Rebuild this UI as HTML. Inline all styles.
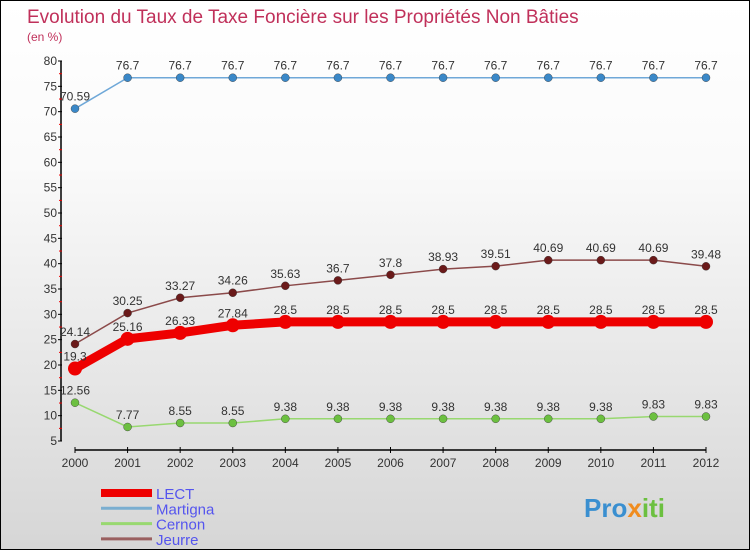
<!DOCTYPE html>
<html><head><meta charset="utf-8"><style>
body{margin:0}
#c{width:750px;height:550px;position:relative;box-sizing:border-box;border:1px solid #000;background:linear-gradient(#fff,#fafafa 30%,#d6d6d6);font-family:"Liberation Sans",sans-serif;overflow:hidden}
</style></head><body>
<div id="c">
<svg id="s" width="748" height="548" xmlns="http://www.w3.org/2000/svg" font-family="Liberation Sans, sans-serif">
<text x="26" y="22" font-size="19" fill="#c0305a">Evolution du Taux de Taxe Foncière sur les Propriétés Non Bâties</text>
<text x="26" y="40" font-size="12" fill="#c0305a">(en %)</text>
<g id="axes"></g><g id="series"></g>
<g id="legend"></g>
<text x="583" y="516" font-size="26" font-weight="bold" fill="#3a8fd0">Pro<tspan fill="#f08c1e">x</tspan><tspan fill="#6cc040">iti</tspan></text>
</svg>
</div>
<script>
const years=["2000","2001","2002","2003","2004","2005","2006","2007","2008","2009","2010","2011","2012"];
const yTicks=[5,10,15,20,25,30,35,40,45,50,55,60,65,70,75,80];
const names=["LECT","Martigna","Cernon","Jeurre"];
const lect=[19.3,25.16,26.33,27.84,28.5,28.5,28.5,28.5,28.5,28.5,28.5,28.5,28.5];
const martigna=[70.59,76.7,76.7,76.7,76.7,76.7,76.7,76.7,76.7,76.7,76.7,76.7,76.7];
const cernon=[12.56,7.77,8.55,8.55,9.38,9.38,9.38,9.38,9.38,9.38,9.38,9.83,9.83];
const jeurre=[24.14,30.25,33.27,34.26,35.63,36.7,37.8,38.93,39.51,40.69,40.69,40.69,39.48];
const NS="http://www.w3.org/2000/svg";
const X=i=>74+i*(705-74)/(years.length-1);
const Y=v=>440-(v-5)*(380/75);
function mk(t,a,p){const e=document.createElementNS(NS,t);for(const k in a)e.setAttribute(k,a[k]);p.appendChild(e);return e;}
const ax=document.getElementById('axes');
let l=mk('line',{x1:60,y1:Y(80),x2:60,y2:Y(5),stroke:'#000','stroke-width':1.5},ax);


yTicks.forEach(v=>{
 let t=mk('line',{x1:57,x2:61,y1:Y(v),y2:Y(v),stroke:'#000'},ax);
 let r=mk('line',{x1:58,x2:61,y1:Y(v)+12.7,y2:Y(v)+12.7,stroke:'#e00'},ax);
 if(v==5)r.remove();
 let tx=mk('text',{x:56,y:Y(v)+4,'text-anchor':'end','font-size':12,fill:'#333'},ax);tx.textContent=v;
 
 
});
l=mk('line',{x1:X(0),y1:449,x2:X(12),y2:449,stroke:'#000','stroke-width':1.5},ax);


years.forEach((y,i)=>{
 mk('line',{x1:X(i),x2:X(i),y1:446,y2:452,stroke:'#000'},ax);
 let tx=mk('text',{x:X(i),y:466,'text-anchor':'middle','font-size':12,fill:'#333'},ax);tx.textContent=y;
 
 
});
const sg=document.getElementById('series');
const defs=[[martigna,'#6fa8d8','#3a88c8',1.5,4,'martigna'],[jeurre,'#8b4a4a','#6b1a1a',1.5,4,'jeurre'],[cernon,'#98d870','#6cc040',1.5,4,'cernon'],[lect,'#ee0000','#ee0000',9,7,'lect']];
defs.forEach(([d,lc,pc,w,r,n])=>{
 let p=mk('polyline',{points:d.map((v,i)=>X(i)+','+Y(v)).join(' '),fill:'none',stroke:lc,'stroke-width':w},sg);
 
 
 d.forEach((v,i)=>{
  let c=mk('circle',{cx:X(i),cy:Y(v),r:r,fill:pc,stroke:n=='lect'?'none':'#333','stroke-width':0.4},sg);
  
  
  let t=mk('text',{x:X(i),y:Y(v)-8,'text-anchor':'middle','font-size':12,fill:'#333'},sg);
  t.textContent=String(v);
  
  
 });
});
const lg=document.getElementById('legend');
const lcol=['#ee0000','#7aaed0','#98d870','#9a6060'],lw=[8,3,3,3];
names.forEach((n,i)=>{
 const y=492+i*15.3;
 let s=mk('line',{x1:100,x2:151,y1:y,y2:y,stroke:lcol[i],'stroke-width':lw[i]},lg);
 
 
 let t=mk('text',{x:155,y:y+6,'font-size':15,fill:'#5555ee'},lg);t.textContent=n;
 
 
});
</script>
</body></html>
